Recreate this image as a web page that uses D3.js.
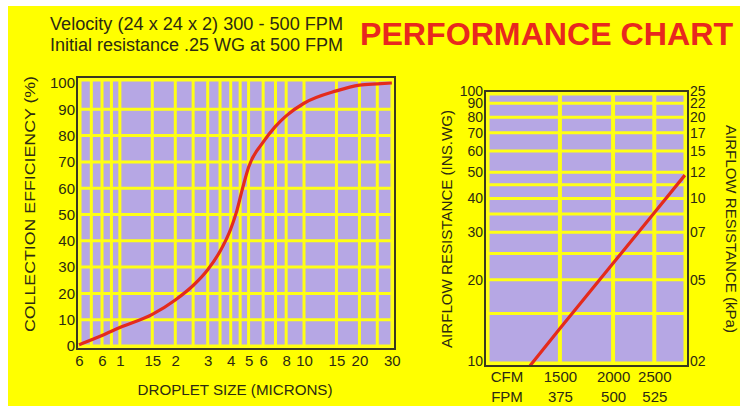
<!DOCTYPE html>
<meta charset="utf-8">
<head>
    <title>Performance chart</title>
    <style>
        html, body { margin: 0; padding: 0; background: #fff; }
        body { font-family: "Liberation Sans", Arial, Helvetica, sans-serif; }
        svg text { fill: #2c2a12; }
        .plot-bg { fill: #b6a7e4; }
        .grid line { stroke: #ffff14; stroke-width: 3; }
        .frame-in { fill: none; stroke: #ffff14; stroke-width: 5; }
        .frame { fill: none; stroke: #3a3820; stroke-width: 2; }
        .axis path, .axis line { display: none; }
        .axis text { font-size: 15px; fill: #2c2a12; }
        .curve { fill: none; stroke: #e42a1c; stroke-width: 3.2; stroke-linejoin: round; }
    </style>
</head>
<body>
    <svg id="chart" width="740" height="410"></svg>
    <script src="https://cdn.jsdelivr.net/npm/d3@7"></script>
    <script>
        // collection efficiency curve (left)
        const dropSize = [0.6, 0.8, 1.0, 1.5, 2.0, 2.5, 3.0, 3.5, 4.0, 4.3, 4.6, 5.0, 6.0, 7.0, 8.0, 10, 15, 20, 25, 30];
        const efficiency = [0.5, 4, 7, 12, 17.5, 23, 29, 36, 44.5, 51, 59, 68, 77.5, 83.5, 87.5, 92.3, 97, 99.2, 99.7, 100];
        const sizeTicks = [0.6, 0.8, 1, 1.5, 2, 3, 4, 5, 6, 8, 10, 15, 20, 30];
        const sizeTickLabels = ["6", "6", "1", "15", "2", "3", "4", "5", "6", "8", "10", "15", "20", "30"];
        const sizeGrid = [0.7, 0.8, 0.9, 1, 1.5, 2, 2.5, 3, 3.5, 4, 4.5, 5, 6, 7, 8, 10, 15, 20, 25];
        const effTicks = [0, 10, 20, 30, 40, 50, 60, 70, 80, 90, 100];
        const effGrid = [10, 20, 30, 40, 50, 60, 70, 80, 90];

        // airflow resistance line (right)
        const cfm = [1276, 1500, 2000, 2500, 2950];
        const resistance = [9.6, 13.2, 23, 35.4, 48.8];
        const resTicks = [10, 20, 30, 40, 50, 60, 70, 80, 90, 100];
        const kpaLabels = ["02", "05", "07", "10", "12", "15", "17", "20", "22", "25"];
        const resGrid = [15, 20, 25, 30, 35, 40, 45, 50, 60, 70, 80, 90];
        const cfmTicks = [1500, 2000, 2500];
        const fpmLabels = ["375", "500", "525"];

        const svg = d3.select('#chart');

        svg.append('rect')
            .attr('x', 8).attr('y', 6)
            .attr('width', 732).attr('height', 400)
            .attr('fill', '#ffff00');

        // header
        svg.append('text')
            .attr('x', 50).attr('y', 30)
            .attr('font-size', 18)
            .attr('textLength', 293).attr('lengthAdjust', 'spacingAndGlyphs')
            .text('Velocity (24 x 24 x 2) 300 - 500 FPM');
        svg.append('text')
            .attr('x', 50).attr('y', 51)
            .attr('font-size', 18)
            .attr('textLength', 293).attr('lengthAdjust', 'spacingAndGlyphs')
            .text('Initial resistance .25 WG at 500 FPM');
        svg.append('text')
            .attr('x', 360).attr('y', 45)
            .attr('font-size', 32).attr('font-weight', 'bold')
            .attr('textLength', 373).attr('lengthAdjust', 'spacingAndGlyphs')
            .style('fill', '#e8281e')
            .text('PERFORMANCE CHART');

        // ---- left chart ----
        const L = {x0: 77, x1: 395, y0: 77, y1: 349};
        const xL = d3.scaleLog().domain([0.6, 31.2]).range([L.x0 + 2, L.x1]);
        const yL = d3.scaleLinear().domain([0, 100]).range([346, 83]);

        const gL = svg.append('g');
        gL.append('rect').attr('class', 'plot-bg')
            .attr('x', L.x0).attr('y', L.y0)
            .attr('width', L.x1 - L.x0).attr('height', L.y1 - L.y0);

        const gridL = gL.append('g').attr('class', 'grid');
        gridL.selectAll('line.v').data(sizeGrid).enter().append('line')
            .attr('class', 'v')
            .attr('x1', d => xL(d)).attr('x2', d => xL(d))
            .attr('y1', L.y0).attr('y2', L.y1);
        gridL.selectAll('line.h').data(effGrid).enter().append('line')
            .attr('class', 'h')
            .attr('x1', L.x0).attr('x2', L.x1)
            .attr('y1', d => yL(d)).attr('y2', d => yL(d));

        gL.append('rect').attr('class', 'frame-in')
            .attr('x', L.x0 + 2).attr('y', L.y0 + 2)
            .attr('width', L.x1 - L.x0 - 4).attr('height', L.y1 - L.y0 - 4);

        gL.append('path').attr('class', 'curve')
            .attr('d', d3.line()
                .x(d => xL(d[0])).y(d => yL(d[1]))
                .curve(d3.curveMonotoneX)(d3.zip(dropSize, efficiency)));

        gL.append('rect').attr('class', 'frame')
            .attr('x', L.x0).attr('y', L.y0)
            .attr('width', L.x1 - L.x0).attr('height', L.y1 - L.y0);

        gL.append('g').attr('class', 'axis')
            .attr('transform', 'translate(' + (L.x0 + 1) + ',0)')
            .call(d3.axisLeft(yL).tickValues(effTicks).tickSize(0).tickPadding(3).tickFormat(d3.format('d')));

        gL.append('g').attr('class', 'axis')
            .attr('transform', 'translate(0,' + L.y1 + ')')
            .call(d3.axisBottom(xL).tickValues(sizeTicks).tickSize(0).tickPadding(6)
                .tickFormat((d, i) => sizeTickLabels[i]));

        svg.append('text')
            .attr('transform', 'translate(35,204) rotate(-90)')
            .attr('text-anchor', 'middle')
            .attr('font-size', 14)
            .attr('textLength', 256).attr('lengthAdjust', 'spacingAndGlyphs')
            .text('COLLECTION EFFICIENCY (%)');

        svg.append('text')
            .attr('x', 235).attr('y', 395)
            .attr('text-anchor', 'middle')
            .attr('font-size', 14)
            .attr('textLength', 195).attr('lengthAdjust', 'spacingAndGlyphs')
            .text('DROPLET SIZE (MICRONS)');

        // ---- right chart ----
        const R = {x0: 485, x1: 688, y0: 91, y1: 366};
        const xR = d3.scaleLog().domain([1000, 3000]).range([R.x0, R.x1]);
        const yR = d3.scaleLog().domain([10, 100]).range([361, 91]);

        const gR = svg.append('g');
        gR.append('rect').attr('class', 'plot-bg')
            .attr('x', R.x0).attr('y', R.y0)
            .attr('width', R.x1 - R.x0).attr('height', R.y1 - R.y0);

        const gridR = gR.append('g').attr('class', 'grid');
        gridR.selectAll('line.v').data(cfmTicks).enter().append('line')
            .attr('class', 'v')
            .attr('x1', d => xR(d)).attr('x2', d => xR(d))
            .attr('y1', R.y0).attr('y2', R.y1)
            .style('stroke-width', 4);
        gridR.selectAll('line.h').data(resGrid).enter().append('line')
            .attr('class', 'h')
            .attr('x1', R.x0).attr('x2', R.x1)
            .attr('y1', d => yR(d)).attr('y2', d => yR(d));

        gR.append('rect').attr('class', 'frame-in')
            .attr('x', R.x0 + 2).attr('y', R.y0 + 2)
            .attr('width', R.x1 - R.x0 - 4).attr('height', R.y1 - R.y0 - 4);

        gR.append('path').attr('class', 'curve')
            .attr('d', d3.line()
                .x(d => xR(d[0])).y(d => yR(d[1]))(d3.zip(cfm, resistance)));

        gR.append('rect').attr('class', 'frame')
            .attr('x', R.x0).attr('y', R.y0)
            .attr('width', R.x1 - R.x0).attr('height', R.y1 - R.y0);

        // tick labels sit tight like in the print
        gR.append('g').attr('class', 'axis')
            .attr('transform', 'translate(' + (R.x0 + 1) + ',0)')
            .call(d3.axisLeft(yR).tickValues(resTicks).tickSize(0).tickPadding(3).tickFormat(d3.format('d')))
            .selectAll('text').style('font-size', '14px');

        gR.append('g').attr('class', 'axis')
            .attr('transform', 'translate(' + (R.x1 - 1) + ',0)')
            .call(d3.axisRight(yR).tickValues(resTicks).tickSize(0).tickPadding(3)
                .tickFormat((d, i) => kpaLabels[i]))
            .selectAll('text').style('font-size', '14px');

        gR.append('g').attr('class', 'axis')
            .attr('transform', 'translate(0,' + R.y1 + ')')
            .call(d3.axisBottom(xR).tickValues(cfmTicks).tickSize(0).tickPadding(5)
                .tickFormat(d3.format('d')));
        gR.append('g').attr('class', 'axis')
            .attr('transform', 'translate(0,' + (R.y1 + 20) + ')')
            .call(d3.axisBottom(xR).tickValues(cfmTicks).tickSize(0).tickPadding(5)
                .tickFormat((d, i) => fpmLabels[i]));

        svg.append('text')
            .attr('x', 507).attr('y', 382)
            .attr('text-anchor', 'middle').attr('font-size', 15)
            .text('CFM');
        svg.append('text')
            .attr('x', 507).attr('y', 402)
            .attr('text-anchor', 'middle').attr('font-size', 15)
            .text('FPM');

        svg.append('text')
            .attr('transform', 'translate(452,229) rotate(-90)')
            .attr('text-anchor', 'middle')
            .attr('font-size', 14)
            .attr('textLength', 238).attr('lengthAdjust', 'spacingAndGlyphs')
            .text('AIRFLOW RESISTANCE (INS.WG)');

        svg.append('text')
            .attr('transform', 'translate(726,229) rotate(90)')
            .attr('text-anchor', 'middle')
            .attr('font-size', 14)
            .attr('textLength', 208).attr('lengthAdjust', 'spacingAndGlyphs')
            .text('AIRFLOW RESISTANCE (kPa)');
    </script>
</body>
</html>
